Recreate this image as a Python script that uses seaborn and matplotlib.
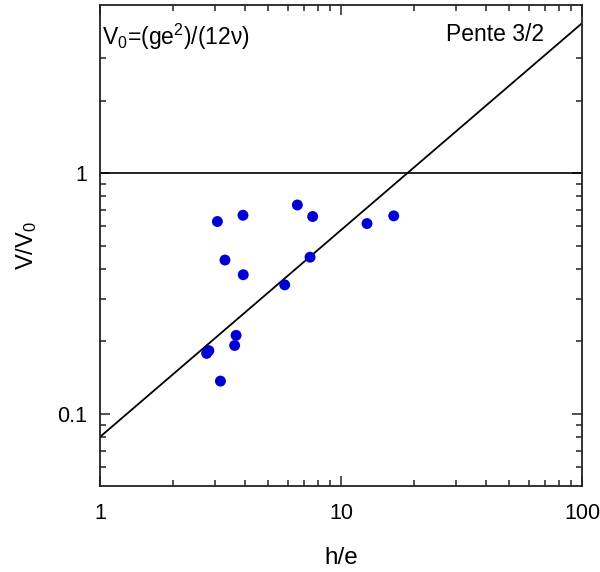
import numpy as np
import pandas as pd
import matplotlib
matplotlib.use("Agg")
import matplotlib.pyplot as plt
import matplotlib.ticker as mticker
import seaborn as sns

# Measured ratios h/e and V/V0
h_over_e = [3.07, 3.92, 6.59, 7.63, 12.82, 16.55, 3.30, 3.93, 7.44, 5.84,
            3.67, 3.62, 2.77, 2.83, 3.16]
v_over_v0 = [0.629, 0.668, 0.737, 0.660, 0.617, 0.664, 0.435, 0.378, 0.447,
             0.343, 0.2115, 0.192, 0.178, 0.1827, 0.1365]

# Power-law guide line and reference level
fit_prefactor = 0.08
fit_exponent = 0.86
fit_x = [1.0, 100.0]
ref_level = 1.0

x_ticks = [1, 10, 100]
x_tick_labels = ["1", "10", "100"]
y_ticks = [0.1, 1]
y_tick_labels = ["0.1", "1"]
y_minor = [0.06, 0.07, 0.08, 0.09, 0.2, 0.3, 0.4, 0.5, 0.6, 0.7, 0.8, 0.9, 2, 3]

sns.set_style("ticks")
plt.rcParams["font.family"] = ["Liberation Sans", "DejaVu Sans"]
plt.rcParams["mathtext.fontset"] = "custom"
plt.rcParams["mathtext.rm"] = "Liberation Sans"
plt.rcParams["mathtext.it"] = "Liberation Sans:italic"
plt.rcParams["text.color"] = "black"
plt.rcParams["axes.labelcolor"] = "black"
plt.rcParams["xtick.labelcolor"] = "black"
plt.rcParams["ytick.labelcolor"] = "black"

fig = plt.figure(figsize=(6.0, 5.72), dpi=100)
ax = fig.add_axes([100 / 600, 86 / 572, 482 / 600, 481 / 572])

data = pd.DataFrame({"h/e": h_over_e, "V/V0": v_over_v0})
fit = pd.DataFrame({"x": fit_x,
                    "y": [fit_prefactor * xv ** fit_exponent for xv in fit_x]})

ax.set_xscale("log")
ax.set_yscale("log")

sns.lineplot(data=fit, x="x", y="y", ax=ax, color="black", linewidth=1.3)
ax.axhline(ref_level, color="black", linewidth=1.2)
sns.scatterplot(data=data, x="h/e", y="V/V0", ax=ax, color="#0000d2",
                s=62, edgecolor="none", zorder=3)

ax.set_xlim(1, 100)
ax.set_ylim(0.05, 5)

ax.xaxis.set_major_locator(mticker.FixedLocator(x_ticks))
ax.xaxis.set_major_formatter(mticker.FixedFormatter(x_tick_labels))
ax.xaxis.set_minor_locator(mticker.LogLocator(base=10, subs=np.arange(2, 10)))
ax.xaxis.set_minor_formatter(mticker.NullFormatter())
ax.yaxis.set_major_locator(mticker.FixedLocator(y_ticks))
ax.yaxis.set_major_formatter(mticker.FixedFormatter(y_tick_labels))
ax.yaxis.set_minor_locator(mticker.FixedLocator(y_minor))
ax.yaxis.set_minor_formatter(mticker.NullFormatter())

ax.tick_params(which="both", direction="in", top=True, right=True,
               width=1.1, color="#222222", labelsize=15.5)
ax.tick_params(which="major", length=7.5)
ax.tick_params(which="minor", length=4)
ax.tick_params(axis="x", which="major", pad=12)
ax.tick_params(axis="y", which="major", pad=9)

for sp in ax.spines.values():
    sp.set_linewidth(1.3)
    sp.set_color("#222222")

ax.set_xlabel("h/e", fontsize=17.5, labelpad=17)
ax.set_ylabel(r"V/V$_0$", fontsize=17, labelpad=13)

ax.text(0.004, 0.965, r"V$_0$=(ge$^2$)/(12ν)", transform=ax.transAxes,
        fontsize=16.5, ha="left", va="top")
ax.text(0.922, 0.963, "Pente 3/2", transform=ax.transAxes,
        fontsize=16.5, ha="right", va="top")

fig.savefig("out.png", dpi=100)
